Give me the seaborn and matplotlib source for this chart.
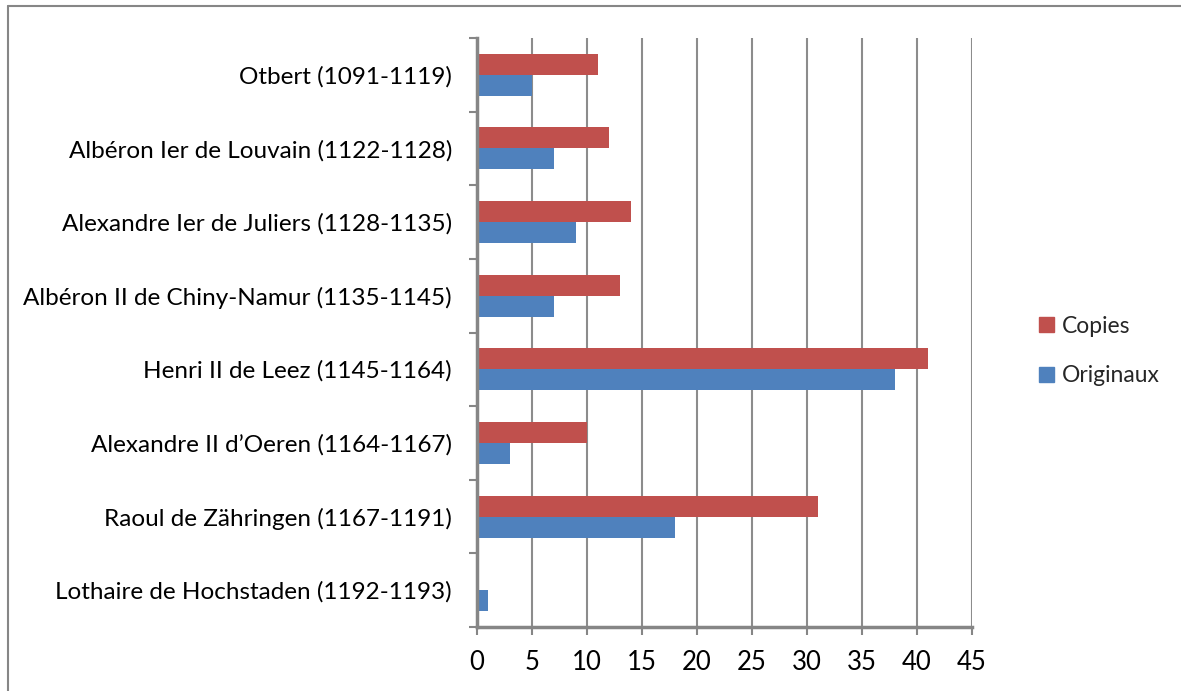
import matplotlib
matplotlib.use("Agg")
import matplotlib.pyplot as plt
from matplotlib.ticker import MultipleLocator, FixedLocator
import seaborn as sns
import pandas as pd

categories = [
    "Otbert (1091-1119)",
    "Albéron Ier de Louvain (1122-1128)",
    "Alexandre Ier de Juliers (1128-1135)",
    "Albéron II de Chiny-Namur (1135-1145)",
    "Henri II de Leez (1145-1164)",
    "Alexandre II d\u2019Oeren (1164-1167)",
    "Raoul de Zähringen (1167-1191)",
    "Lothaire de Hochstaden (1192-1193)",
]
copies = [11, 12, 14, 13, 41, 10, 31, 0]
originaux = [5, 7, 9, 7, 38, 3, 18, 1]
series = ["Copies", "Originaux"]
colors = ["#C0504D", "#4F81BD"]

df = pd.DataFrame({
    "cat": categories * 2,
    "val": copies + originaux,
    "serie": [series[0]] * len(categories) + [series[1]] * len(categories),
})

sns.set_theme(style="white")
plt.rcParams["font.family"] = ["Lato", "DejaVu Sans"]

fig = plt.figure(figsize=(11.81, 6.91), dpi=100)
ax = fig.add_axes([477 / 1181, 1 - 627 / 691, (972 - 477) / 1181, (627 - 38) / 691])

sns.barplot(data=df, y="cat", x="val", hue="serie", order=categories,
            hue_order=series, palette=colors, orient="h", width=0.57,
            saturation=1, ax=ax, legend=True, edgecolor="none")

ax.set_xlim(0, 45)
ax.set_ylim(len(categories) - 0.5, -0.5)
ax.xaxis.set_major_locator(MultipleLocator(5))
ax.grid(axis="x", color="#8c8c8c", linewidth=1.5)
ax.set_axisbelow(True)
ax.set_xlabel("")
ax.set_ylabel("")

for s in ["top", "right"]:
    ax.spines[s].set_visible(False)
for s in ["left", "bottom"]:
    ax.spines[s].set_color("#868686")
    ax.spines[s].set_linewidth(2.5)

ax.yaxis.set_minor_locator(FixedLocator([i - 0.5 for i in range(len(categories) + 1)]))
ax.tick_params(axis="y", which="major", length=0, pad=18, labelsize=17.5, colors="black")
ax.tick_params(axis="y", which="minor", length=6, width=1.5, color="#868686", left=True)
ax.tick_params(axis="x", which="major", length=6, width=1.5, color="#868686", pad=10.5,
               labelsize=18.5, bottom=True)
for t in ax.get_xticklabels():
    t.set_color("black")

leg = ax.get_legend()
if leg is not None:
    leg.remove()
handles = [plt.Rectangle((0, 0), 1, 1, color=c) for c in colors]
fig.legend(handles, series, loc="center left", bbox_to_anchor=(1018 / 1181, 1 - 351 / 691),
           frameon=False, fontsize=16.5, handlelength=0.65, handleheight=0.65,
           handletextpad=0.35, labelspacing=1.25)

# outer chart border (top and left)
fig.add_artist(plt.Line2D([8 / 1181, 1], [1 - 6 / 691, 1 - 6 / 691], color="#868686", linewidth=1.5))
fig.add_artist(plt.Line2D([8 / 1181, 8 / 1181], [0, 1 - 6 / 691], color="#868686", linewidth=1.5))

fig.savefig("out.png", dpi=100)
